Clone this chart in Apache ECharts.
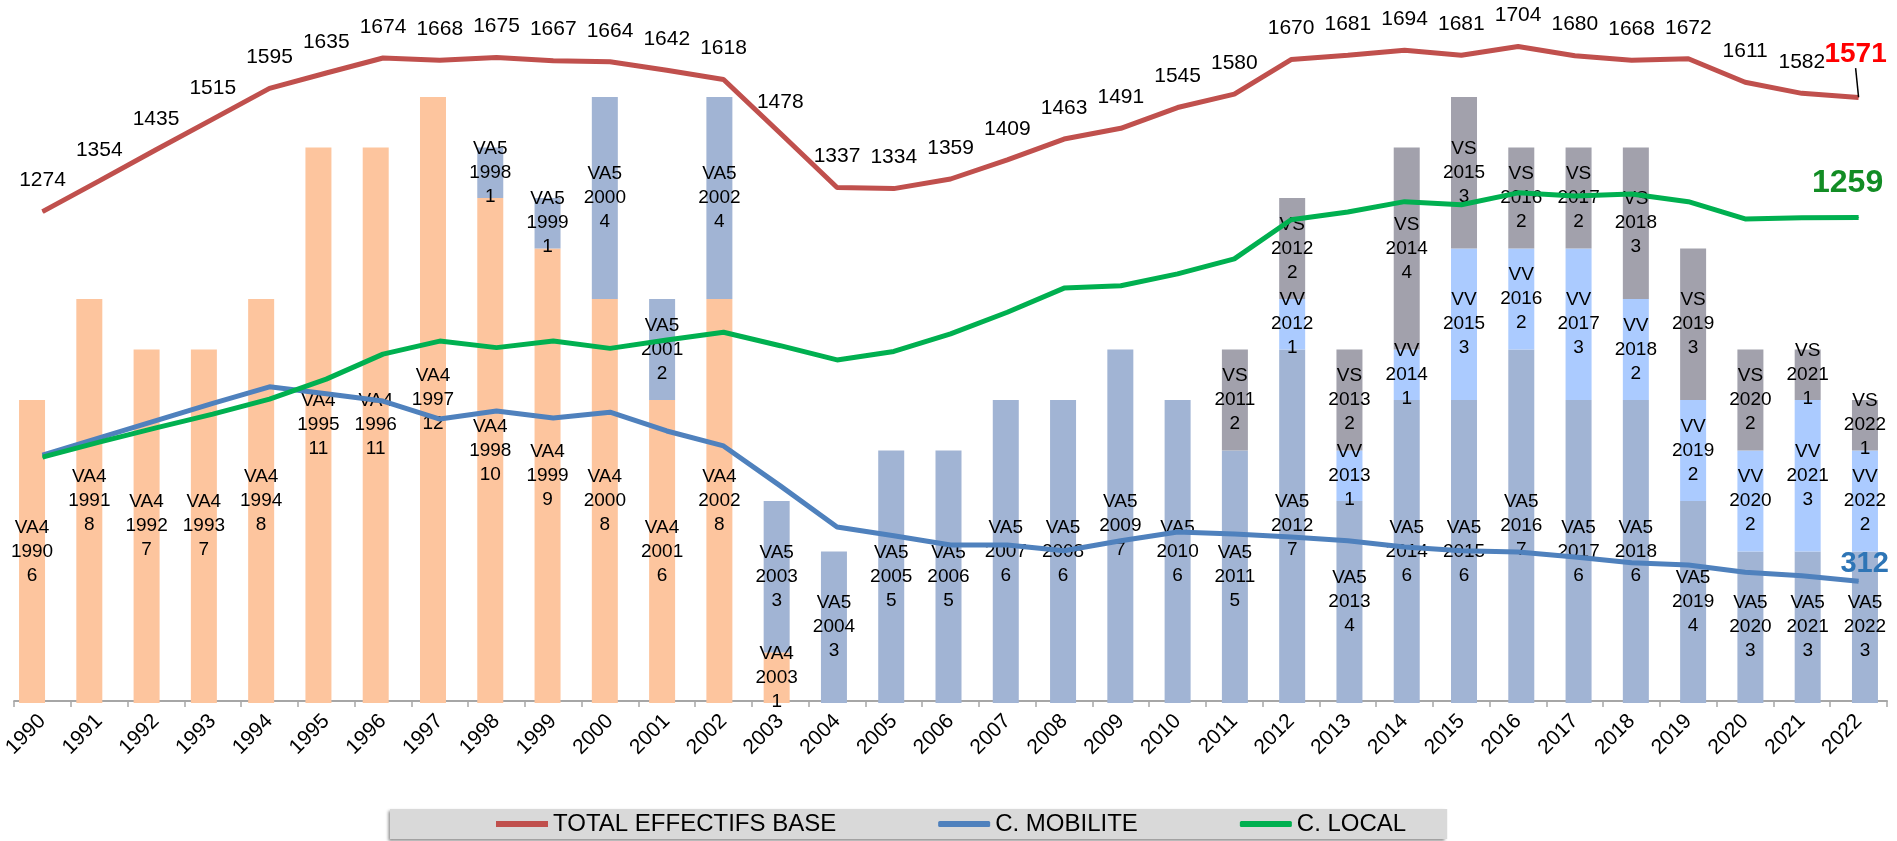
<!DOCTYPE html>
<html>
<head>
<meta charset="utf-8">
<script src="https://cdn.jsdelivr.net/npm/echarts@6/dist/echarts.min.js"></script>
<style>
html, body { margin: 0; padding: 0; background: #fff; }
#chart { width: 1897px; height: 841px; }
</style>
</head>
<body>
<div id="chart"></div>
<script>
// années
var years = ['1990', '1991', '1992', '1993', '1994', '1995', '1996', '1997', '1998', '1999', '2000',
  '2001', '2002', '2003', '2004', '2005', '2006', '2007', '2008', '2009', '2010',
  '2011', '2012', '2013', '2014', '2015', '2016', '2017', '2018', '2019', '2020', '2021', '2022'];

// effectifs (courbes)
var total = [1274, 1354, 1435, 1515, 1595, 1635, 1674, 1668, 1675, 1667, 1664,
  1642, 1618, 1478, 1337, 1334, 1359, 1409, 1463, 1491, 1545,
  1580, 1670, 1681, 1694, 1681, 1704, 1680, 1668, 1672, 1611, 1582, 1571];
var mobilite = [640, 685, 730, 775, 818, 800, 781, 734, 755, 737, 752,
  703, 664, 560, 453, 430, 406, 406, 391, 417, 440,
  435, 427, 417, 401, 391, 388, 375, 360, 354, 335, 326, 312];
var local = [635, 674, 711, 747, 786, 838, 903, 937, 920, 937, 918,
  940, 960, 925, 888, 910, 956, 1012, 1075, 1081, 1112,
  1151, 1253, 1273, 1300, 1292, 1323, 1315, 1320, 1300, 1255, 1258, 1259];

// appareils (barres empilées)
var va4 = [6, 8, 7, 7, 8, 11, 11, 12, 10, 9, 8, 6, 8, 1, 0, 0, 0, 0, 0, 0, 0, 0, 0, 0, 0, 0, 0, 0, 0, 0, 0, 0, 0];
var va5 = [0, 0, 0, 0, 0, 0, 0, 0, 1, 1, 4, 2, 4, 3, 3, 5, 5, 6, 6, 7, 6, 5, 7, 4, 6, 6, 7, 6, 6, 4, 3, 3, 3];
var vv  = [0, 0, 0, 0, 0, 0, 0, 0, 0, 0, 0, 0, 0, 0, 0, 0, 0, 0, 0, 0, 0, 0, 1, 1, 1, 3, 2, 3, 2, 2, 2, 3, 2];
var vs  = [0, 0, 0, 0, 0, 0, 0, 0, 0, 0, 0, 0, 0, 0, 0, 0, 0, 0, 0, 0, 0, 2, 2, 2, 4, 3, 2, 2, 3, 3, 2, 1, 1];

var FONT = 'Liberation Sans, Arial, sans-serif';
var last = years.length - 1;

var myChart = echarts.init(document.getElementById('chart'));

function barSerie(name, data, color) {
  return {
    name: name,
    type: 'bar',
    stack: 'app',
    xAxisIndex: 1,
    yAxisIndex: 1,
    barWidth: 26,
    z: 2,
    itemStyle: { color: color },
    label: {
      show: true,
      position: 'inside',
      color: '#000',
      fontFamily: FONT,
      fontSize: 19,
      lineHeight: 24,
      formatter: function (p) {
        return p.value ? p.seriesName + '\n' + p.name + '\n' + p.value : '';
      }
    },
    data: data
  };
}

// seul le dernier point porte une étiquette
function lastLabel(arr, label) {
  return arr.map(function (v, i) {
    return i === last ? { value: v, label: label } : v;
  });
}

var option = {
  animation: false,
  textStyle: { fontFamily: FONT },
  grid: [
    { left: 8, right: 10, top: 0, bottom: 140 },     // courbes + axe
    { left: 3.4, right: 3.4, top: 0, bottom: 138 }  // barres
  ],
  legend: {
    left: 390,
    top: 809,
    padding: [3, 41, 3, 106],
    itemGap: 102,
    itemWidth: 52,
    itemHeight: 6,
    backgroundColor: '#d9d9d9',
    shadowColor: 'rgba(0,0,0,0.45)',
    shadowBlur: 3,
    shadowOffsetX: -2,
    shadowOffsetY: 2,
    textStyle: { fontFamily: FONT, fontSize: 24, color: '#000', lineHeight: 24 },
    data: [
      { name: 'TOTAL EFFECTIFS BASE', icon: 'rect' },
      { name: 'C. MOBILITE', icon: 'roundRect' },
      { name: 'C. LOCAL', icon: 'roundRect' }
    ]
  },
  xAxis: [
    {
      type: 'category',
      gridIndex: 0,
      data: years,
      boundaryGap: true,
      axisLine: { lineStyle: { color: '#a6a6a6', width: 2 } },
      axisTick: { show: true, length: 6, lineStyle: { color: '#a6a6a6', width: 1.5 } },
      axisLabel: {
        interval: 0,
        rotate: 45,
        margin: 17,
        color: '#000',
        fontFamily: FONT,
        fontSize: 21
      }
    },
    {
      type: 'category',
      gridIndex: 1,
      data: years,
      show: false
    }
  ],
  yAxis: [
    { type: 'value', gridIndex: 0, min: 0, max: 1825, show: false, splitLine: { show: false } },
    { type: 'value', gridIndex: 1, min: 0, max: 13.92, show: false, splitLine: { show: false } }
  ],
  series: [
    barSerie('VA4', va4, '#fdc59e'),
    barSerie('VA5', va5, '#a1b4d4'),
    barSerie('VV', vv, '#abcbff'),
    barSerie('VS', vs, '#a2a1ac'),
    {
      name: 'TOTAL EFFECTIFS BASE',
      type: 'line',
      z: 3,
      symbol: 'circle',
      symbolSize: 1,
      lineStyle: { color: '#c0504d', width: 5 },
      itemStyle: { color: '#c0504d' },
      label: {
        show: true,
        position: 'top',
        distance: 20,
        color: '#000',
        fontFamily: FONT,
        fontSize: 21,
        formatter: function (p) { return p.dataIndex === last ? '' : p.value; }
      },
      data: total
    },
    {
      name: 'C. MOBILITE',
      type: 'line',
      z: 3,
      symbol: 'circle',
      symbolSize: 1,
      lineStyle: { color: '#4f81bd', width: 5 },
      itemStyle: { color: '#4f81bd' },
      label: { show: false },
      data: lastLabel(mobilite, {
        show: true, position: 'top', distance: 2, offset: [6, 0],
        color: '#2e75b6', fontFamily: FONT, fontSize: 29, fontWeight: 'bold'
      })
    },
    {
      name: 'C. LOCAL',
      type: 'line',
      z: 3,
      symbol: 'circle',
      symbolSize: 1,
      lineStyle: { color: '#00b050', width: 5 },
      itemStyle: { color: '#00b050' },
      label: { show: false },
      data: lastLabel(local, {
        show: true, position: 'top', distance: 18, offset: [-11, 0],
        color: '#128c24', fontFamily: FONT, fontSize: 32, fontWeight: 'bold'
      })
    },
    {
      // étiquette rouge du dernier total avec trait de rappel
      name: 'total-fin',
      type: 'line',
      z: 4,
      symbol: 'circle',
      symbolSize: 1,
      showSymbol: true,
      itemStyle: { color: '#c0504d' },
      lineStyle: { width: 0 },
      label: {
        show: true,
        position: 'top',
        distance: 20,
        color: '#ff0000',
        fontFamily: FONT,
        fontSize: 28,
        fontWeight: 'bold'
      },
      labelLine: { show: true, lineStyle: { color: '#000', width: 1.5 } },
      labelLayout: { dx: -3, dy: -9 },
      data: total.map(function (v, i) { return i === last ? v : '-'; })
    }
  ]
};

myChart.setOption(option);
</script>
</body>
</html>
